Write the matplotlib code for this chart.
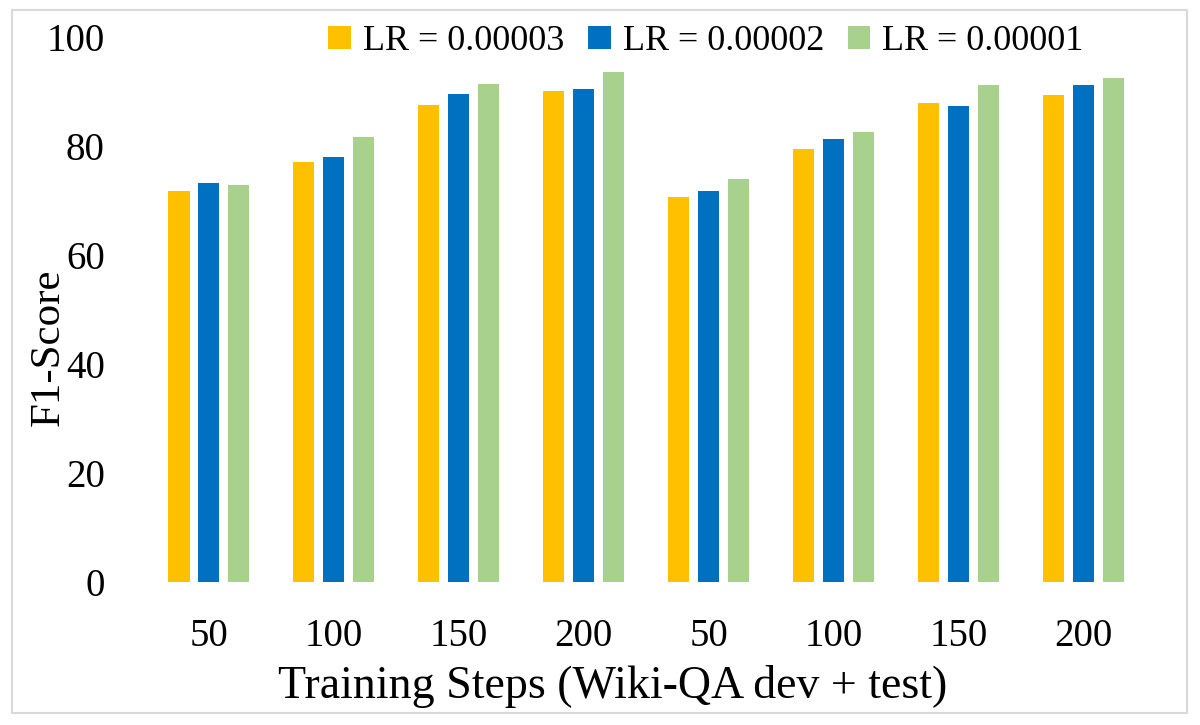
import matplotlib
matplotlib.use("Agg")
import matplotlib.pyplot as plt
import numpy as np
from matplotlib.patches import Patch, Rectangle

categories = ["50", "100", "150", "200", "50", "100", "150", "200"]
series_names = ["LR = 0.00003", "LR = 0.00002", "LR = 0.00001"]
lr_00003 = [71.8, 77.1, 87.6, 90.1, 70.6, 79.4, 87.8, 89.4]
lr_00002 = [73.3, 78.0, 89.5, 90.4, 71.7, 81.2, 87.3, 91.2]
lr_00001 = [72.8, 81.6, 91.4, 93.6, 73.9, 82.6, 91.2, 92.5]
y_ticks = [0, 20, 40, 60, 80, 100]

colors = ["#FFC000", "#0070C0", "#A9D18E"]

plt.rcParams['font.family'] = ['Liberation Serif', 'DejaVu Serif']

fig = plt.figure(figsize=(12, 7.25), dpi=100)
ax = fig.add_axes([0.122, 0.197, 0.833, 0.752])

x = np.arange(len(categories))
width = 0.17
offset = 0.24
for i, (vals, c) in enumerate(zip([lr_00003, lr_00002, lr_00001], colors)):
    ax.bar(x + (i - 1) * offset, vals, width=width, color=c, label=series_names[i])

ax.set_xlim(-0.5, len(categories) - 0.5)
ax.set_ylim(0, 100)
ax.set_yticks(y_ticks)
ax.set_xticks(x)
ax.set_xticklabels(categories)
for s in ax.spines.values():
    s.set_visible(False)
ax.tick_params(axis='both', length=0, labelsize=28, colors='black')
ax.tick_params(axis='y', pad=30)
ax.tick_params(axis='x', pad=26)

ax.set_ylabel("F1-Score", fontsize=31, va='center', ha='center')
ax.yaxis.set_label_coords(-0.098, 0.431)
ax.set_xlabel("Training Steps (Wiki-QA dev + test)", fontsize=33, va='center', ha='center')
ax.xaxis.set_label_coords(0.466, -0.192)

handles = [Patch(facecolor=c, edgecolor='none') for c in colors]
ax.legend(handles, series_names, loc='center', bbox_to_anchor=(706 / 1200, 1 - 42 / 725),
          bbox_transform=fig.transFigure, ncol=3, frameon=False, fontsize=26,
          handlelength=0.62, handleheight=0.62, handletextpad=0.33, columnspacing=0.67,
          borderpad=0, borderaxespad=0)

fig.patches.append(Rectangle((12 / 1200, 1 - 713 / 725), 1175 / 1200, 703 / 725,
                             transform=fig.transFigure, fill=False, edgecolor='#D9D9D9',
                             linewidth=1.5, zorder=0))

fig.savefig("out.png", dpi=100)
